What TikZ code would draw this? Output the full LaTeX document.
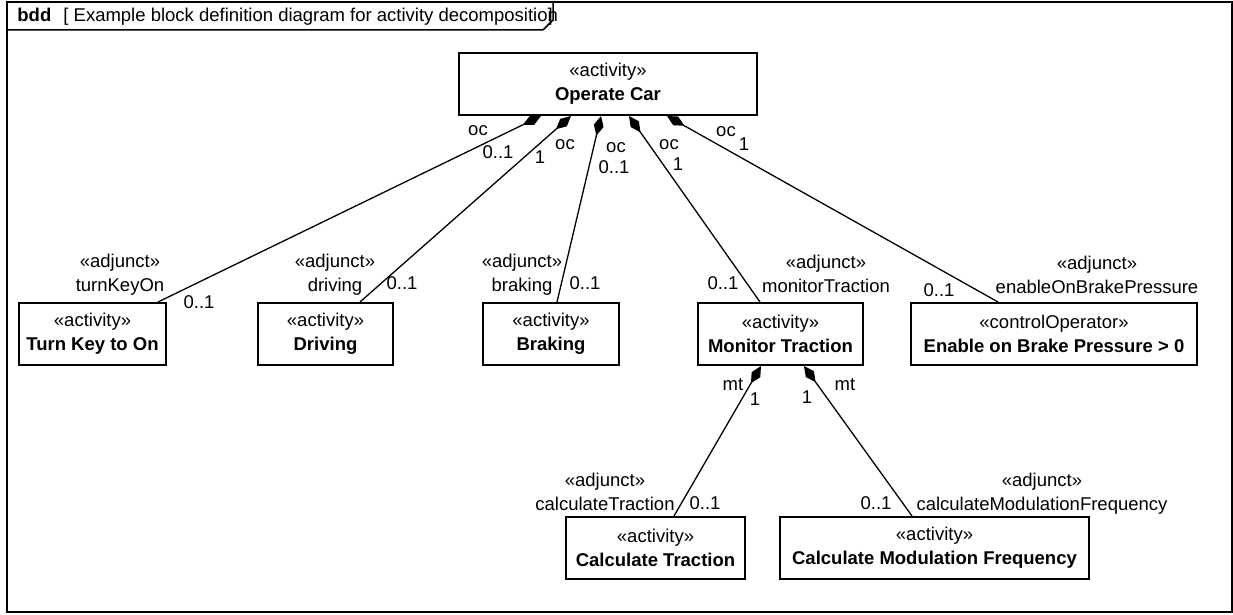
\documentclass[tikz,border=0pt]{standalone}
\usepackage{fontspec}
\setmainfont{Liberation Sans}
\usetikzlibrary{arrows.meta,calc}

\begin{document}
\begin{tikzpicture}[
    x=0.5pt, y=-0.5pt,
    every node/.style={font=\fontsize{9.25}{12}\selectfont},
    blk/.style={
        draw,
        line width=1pt,
        align=center,
        inner sep=0pt,
        minimum height=31pt
    },
    comp/.style={line width=0.65pt, {Diamond[length=10pt,width=5pt]}-},
    lbl/.style={inner sep=0pt, align=center},
    frm/.style={line width=0.75pt}
]
\useasboundingbox (0,0) rectangle (1233,615);

% diagram frame
\draw[frm] (7,2) rectangle (1232,612);
\draw[frm] (7,30) -- (543,30) -- (553,20) -- (553,2);
\node[lbl, anchor=base west] (kind) at (17,22) {\textbf{bdd}};
\node[lbl, anchor=base west] (title) at (63,22) {[ Example block definition diagram for activity decompositio\rlap{n}]};

% blocks
\node[blk, minimum width=149pt] (oc) at (608,84) {«activity»\\\textbf{Operate Car}};

\node[blk, minimum width=73.5pt] (tko) at (92.5,334) {«activity»\\\textbf{Turn Key to On}};
\node[blk, minimum width=67.5pt] (drv) at (325.5,334) {«activity»\\\textbf{Driving}};
\node[blk, minimum width=68pt] (brk) at (551,334) {«activity»\\\textbf{Braking}};
\node[blk, minimum width=82.5pt] (mon) at (780.5,334) {«activity»\\\textbf{Monitor Traction}};
\node[blk, minimum width=143pt] (ebp) at (1054,334) {«controlOperator»\\\textbf{Enable on Brake Pressure > 0}};

\node[blk, minimum width=89.5pt] (ctr) at (655.5,548) {«activity»\\\textbf{Calculate Traction}};
\node[blk, minimum width=154.5pt] (cmf) at (934.5,548) {«activity»\\\textbf{Calculate Modulation Frequency}};

% composite associations
\draw[comp] ($(oc.south)+(-67,0)$) -- ($(tko.north)+(65.5,0)$);
\draw[comp] ($(oc.south)+(-37,0)$) -- ($(drv.north)+(34.5,0)$);
\draw[comp] ($(oc.south)+(-7,0)$) -- ($(brk.north)+(6,0)$);
\draw[comp] ($(oc.south)+(21,0)$) -- ($(mon.north)+(-20.5,0)$);
\draw[comp] ($(oc.south)+(59,0)$) -- ($(ebp.north)+(-56,0)$);
\draw[comp] ($(mon.south)+(-19.5,0)$) -- ($(ctr.north)+(18.5,0)$);
\draw[comp] ($(mon.south)+(23.5,0)$) -- ($(cmf.north)+(-22.5,0)$);

% whole ends
\node[lbl] (w1a) at (478,131) {oc};
\node[lbl] (w1b) at (498,152) {0..1};
\node[lbl] (w2a) at (540,157) {1};
\node[lbl] (w2b) at (565,145) {oc};
\node[lbl] (w3a) at (616,148) {oc};
\node[lbl] (w3b) at (614,167) {0..1};
\node[lbl] (w4a) at (669,145) {oc};
\node[lbl] (w4b) at (678,164) {1};
\node[lbl] (w5a) at (726,132) {oc};
\node[lbl] (w5b) at (744,144) {1};
\node[lbl] (w6a) at (733,385) {mt};
\node[lbl] (w6b) at (755,399) {1};
\node[lbl] (w7a) at (807,397) {1};
\node[lbl] (w7b) at (845,385) {mt};

% part ends
\node[lbl] (p1a) at (120,275) {«adjunct»\\turnKeyOn};
\node[lbl] (p1b) at (199,302) {0..1};
\node[lbl] (p2a) at (335,275) {«adjunct»\\driving};
\node[lbl] (p2b) at (402,283) {0..1};
\node[lbl] (p3a) at (522,275) {«adjunct»\\braking};
\node[lbl] (p3b) at (585,283) {0..1};
\node[lbl] (p4a) at (826,274) {«adjunct»\\monitorTraction};
\node[lbl] (p4b) at (723,283) {0..1};
\node[lbl] (p5a) at (1097,275) {«adjunct»\\enableOnBrakePressure};
\node[lbl] (p5b) at (939,290) {0..1};
\node[lbl] (p6a) at (605,492) {«adjunct»\\calculateTraction};
\node[lbl] (p6b) at (705,503) {0..1};
\node[lbl] (p7a) at (1042,494) {«adjunct»\\calculateModulationFrequency};
\node[lbl] (p7b) at (876,503) {0..1};

\end{tikzpicture}
\end{document}
